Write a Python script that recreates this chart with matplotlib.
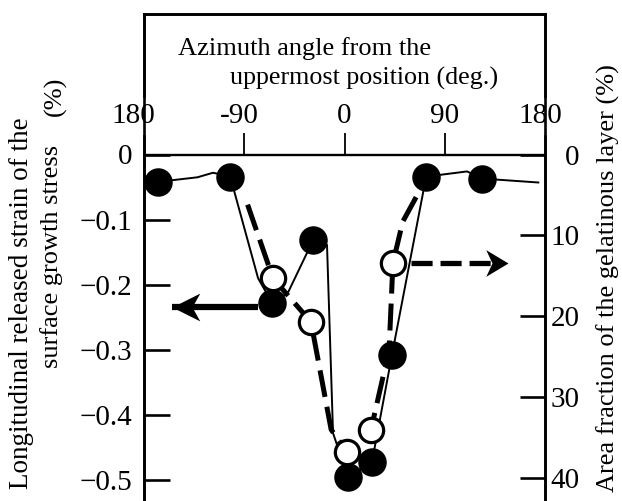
"""
Released strain and gelatinous layer fraction vs azimuth angle.
"""
import numpy as np
import matplotlib.pyplot as plt
from matplotlib.path import Path

plt.rcParams['font.family'] = ['Liberation Serif', 'DejaVu Serif']

# filled circles: released strain (%), left axis
strain_ang = [-167.4, -102.6, -65, -28, 3, 24.7, 42.6, 73.3, 123.5]
strain_val = [-0.042, -0.034, -0.228, -0.131, -0.495, -0.472, -0.308, -0.034, -0.037]

# solid curve through the filled circles (with the bends seen in the figure)
strain_line_ang = [-167.4, -132, -118, -102.6, -77.6, -65, -50.7, -28, -15.7, -10.3,
                   3, 24.7, 42.6, 73.3, 110, 123.5, 174]
strain_line_val = [-0.042, -0.035, -0.028, -0.034, -0.19, -0.228, -0.212, -0.131, -0.139,
                   -0.428, -0.495, -0.472, -0.308, -0.034, -0.026, -0.037, -0.043]

# open circles: area fraction of gelatinous layer (%), right axis
area_ang = [-64.2, -30.1, 2.2, 23.8, 43.5]
area_val = [15.3, 20.7, 36.8, 34.0, 13.4]

# dashed curve through the open circles
area_line_ang = [-87, -64.2, -30.1, -12, 2.2, 23.8, 40, 43.5, 52.3, 71.3]
area_line_val = [6.2, 15.3, 20.7, 34.0, 36.8, 34.0, 24.2, 13.4, 8.3, 3.5]

left_ticks = [0, -0.1, -0.2, -0.3, -0.4, -0.5]
left_labels = ['0', '\u22120.1', '\u22120.2', '\u22120.3', '\u22120.4', '\u22120.5']
right_ticks = [0, 10, 20, 30, 40]
right_labels = ['0', '10', '20', '30', '40']
top_ticks = [-90, 0, 90]
top_label_pos = [-180, -90, 0, 90, 180]
top_labels = ['180', '-90', '0', '90', '180']

# arrows pointing to the axes (tail x, tip x, y in left-axis units)
arrow_left = ([-77.6, -154.9], [-0.235, -0.235])
arrow_right = ([60.1, 140.0], [-0.1667, -0.1667])
arrow_right_tip = (146.8, -0.1667)

W, H = 622, 501
fig = plt.figure(figsize=(W / 100, H / 100), dpi=100)
ax = fig.add_axes([144 / W, -9 / H, 401 / W, 496 / H])
ax.set_xlim(-180, 180)
ax.set_ylim(-(510 - 154.5) / 651, (154.5 - 14) / 651)
for s in ax.spines.values():
    s.set_linewidth(1.9)

ax2 = ax.twinx()
ax2.set_ylim((510 - 154.5) / 8.09, -(154.5 - 14) / 8.09)
for s in ax2.spines.values():
    s.set_linewidth(1.9)

ax.set_xticks([])
ax.set_yticks(left_ticks, left_labels)
ax.tick_params(axis='y', direction='in', length=19, width=1.9, pad=8.5, labelsize=21)
ax2.set_yticks(right_ticks, right_labels, ha='right')
ax2.tick_params(axis='y', direction='in', length=18, width=1.9, pad=25, labelsize=21)

# zero line and the ticks of the top angle scale
ax.axhline(0, color='k', lw=1.7, zorder=2)
ax.vlines(top_ticks, 0, 0.033, color='k', lw=1.3)
offsets = [-8, -3.5, 0, 0, -3.5]
for xp, lab, dx in zip(top_label_pos, top_labels, offsets):
    box = dict(fc='white', ec='none', pad=4) if abs(xp) == 180 else None
    ax.annotate(lab, (xp, 0.059), xytext=(dx, 0), textcoords='offset points',
                ha='center', va='center', fontsize=21, bbox=box, zorder=5,
                annotation_clip=False)

ax.text(-149.5, 0.153, 'Azimuth angle from the', fontsize=19, ha='left', va='baseline')
ax.text(-102.8, 0.107, 'uppermost position (deg.)', fontsize=18.7, ha='left', va='baseline')

# curves and markers
ax.plot(strain_line_ang, strain_line_val, color='k', lw=1.4, zorder=3)
ax2.plot(area_line_ang, area_line_val, color='k', lw=3.6, dashes=(5.4, 2.0), zorder=3)
ax.plot(strain_ang, strain_val, 'o', color='k', ms=19.5, zorder=4)
ax2.plot(area_ang, area_val, 'o', mfc='white', mec='k', mew=2.3, ms=17.5, zorder=5)

# arrow heads as path markers with the tip at the origin
head_l = Path([(0, 0), (1, 0.5), (0.72, 0), (1, -0.5), (0, 0)],
              [Path.MOVETO, Path.LINETO, Path.LINETO, Path.LINETO, Path.CLOSEPOLY])
head_r = Path([(0, 0), (-1, 0.6), (-0.72, 0), (-1, -0.6), (0, 0)],
              [Path.MOVETO, Path.LINETO, Path.LINETO, Path.LINETO, Path.CLOSEPOLY])
ax.plot(arrow_left[0], arrow_left[1], color='k', lw=4.5, solid_capstyle='butt', zorder=3)
ax.plot(arrow_left[0][1], arrow_left[1][1], marker=head_l, ms=40, color='k', mew=0, zorder=3)
ax.plot(arrow_right[0], arrow_right[1], color='k', lw=3.8, dashes=(4.0, 1.5), zorder=3)
ax.plot(*arrow_right_tip, marker=head_r, ms=32, color='k', mew=0, zorder=3)

# axis titles
fig.text(22 / W, 1 - 303 / H, 'Longitudinal released strain of the', rotation=90,
         ha='center', va='center', fontsize=19.5)
fig.text(52 / W, 1 - 256 / H, 'surface growth stress', rotation=90,
         ha='center', va='center', fontsize=19)
fig.text(55 / W, 1 - 96 / H, '(%)', rotation=90, ha='center', va='center', fontsize=19)
fig.text(608 / W, 1 - 278 / H, 'Area fraction of the gelatinous layer (%)', rotation=90,
         ha='center', va='center', fontsize=19)

fig.savefig('out.png', dpi=100)
